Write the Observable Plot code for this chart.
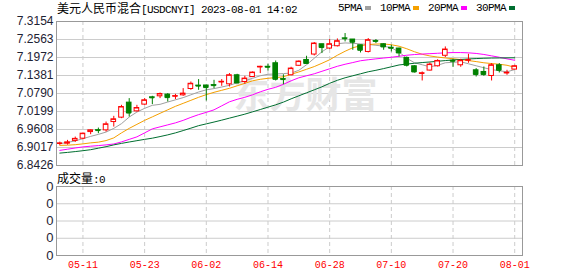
<!DOCTYPE html>
<html><head><meta charset="utf-8">
<script src="https://cdn.jsdelivr.net/npm/d3@7"></script>
<script src="https://cdn.jsdelivr.net/npm/@observablehq/plot@0.6"></script>
<style>
html,body{margin:0;padding:0;background:#fff;}
#wrap{position:relative;width:578px;height:276px;overflow:hidden;font-family:"Liberation Sans",Arial,sans-serif;}
.abs{position:absolute;white-space:nowrap;line-height:16px;color:#000;}
.cjk{font-family:"Noto Sans CJK SC";font-size:12px;}
.mono{font-family:"Liberation Mono",monospace;font-size:11px;letter-spacing:-0.6px;}
.sw{display:inline-block;width:6px;height:4px;margin:0 9px 1px 3px;vertical-align:middle;}
svg{position:absolute;left:0;}
</style></head><body><div id="wrap"></div>
<script>
const dates = ["05-08","05-09","05-10","05-11","05-12","05-15","05-16","05-17","05-18","05-19",
"05-22","05-23","05-24","05-25","05-26","05-29","05-30","05-31","06-01","06-02",
"06-05","06-06","06-07","06-08","06-09","06-12","06-13","06-14","06-15","06-16",
"06-19","06-20","06-21","06-26","06-27","06-28","06-29","06-30","07-03","07-04",
"07-05","07-06","07-07","07-10","07-11","07-12","07-13","07-14","07-17","07-18",
"07-19","07-20","07-21","07-24","07-25","07-26","07-27","07-28","07-31","08-01"];
const open = [6.9136,6.9142,6.9234,6.9307,6.9524,6.9586,6.9580,6.9853,6.9997,7.0490,
7.0204,7.0425,7.0665,7.0698,7.0753,7.0691,7.0730,7.0938,7.1049,7.1053,
7.1066,7.1158,7.1092,7.1388,7.1168,7.1332,7.1651,7.1667,7.1783,7.1263,
7.1388,7.1700,7.1891,7.2069,7.2407,7.2266,7.2342,7.2601,7.2562,7.2374,
7.2154,7.2512,7.2407,7.2292,7.2266,7.1957,7.1684,7.1437,7.1543,7.1684,
7.2029,7.1865,7.1717,7.1871,7.1552,7.1497,7.1365,7.1717,7.1454,7.1575];
const high = [6.9195,6.9251,6.9359,6.9491,6.9596,6.9655,6.9853,7.0040,7.0402,7.0622,
7.0402,7.0622,7.0698,7.0806,7.0786,7.0763,7.0951,7.1168,7.1247,7.1059,
7.1224,7.1247,7.1444,7.1421,7.1355,7.1497,7.1684,7.1750,7.1858,7.1404,
7.1651,7.1858,7.2013,7.2463,7.2407,7.2562,7.2582,7.2759,7.2562,7.2374,
7.2595,7.2562,7.2424,7.2374,7.2276,7.1990,7.1700,7.1497,7.1792,7.1898,
7.2319,7.1914,7.1914,7.2078,7.1608,7.1661,7.1773,7.1773,7.1552,7.1717];
const low = [6.9086,6.9096,6.9185,6.9267,6.9438,6.9471,6.9524,6.9688,6.9964,7.0017,
7.0181,7.0402,7.0425,7.0622,7.0510,7.0589,7.0698,7.0895,7.0895,7.0543,
7.0951,7.1026,7.1003,7.1115,7.1092,7.1312,7.1444,7.1529,7.1201,7.1076,
7.1372,7.1684,7.1766,7.2023,7.2101,7.2233,7.2319,7.2483,7.2210,7.2121,
7.2121,7.2430,7.2210,7.2154,7.1990,7.1661,7.1464,7.1201,7.1529,7.1661,
7.1970,7.1651,7.1651,7.1783,7.1332,7.1355,7.1201,7.1464,7.1388,7.1575];
const close = [6.9152,6.9185,6.9300,6.9471,6.9580,6.9573,6.9777,6.9941,7.0346,7.0148,
7.0313,7.0566,7.0648,7.0773,7.0655,7.0704,7.0786,7.1109,7.1033,7.0984,
7.1049,7.1174,7.1388,7.1135,7.1279,7.1477,7.1667,7.1651,7.1256,7.1247,
7.1608,7.1838,7.1773,7.2430,7.2299,7.2407,7.2506,7.2588,7.2473,7.2210,
7.2539,7.2499,7.2319,7.2276,7.2121,7.1717,7.1497,7.1454,7.1740,7.1858,
7.2233,7.1848,7.1865,7.1888,7.1411,7.1411,7.1717,7.1552,7.1470,7.1684];
const ma5 = [6.9142,6.9185,6.9234,6.9307,6.9382,6.9448,6.9524,6.9645,6.9800,7.0017,
7.0181,7.0303,7.0402,7.0434,7.0510,7.0582,7.0655,7.0747,7.0839,7.0911,
7.0951,7.1003,7.1059,7.1141,7.1207,7.1289,7.1372,7.1421,7.1431,7.1444,
7.1460,7.1552,7.1733,7.1947,7.2161,7.2325,7.2424,7.2450,7.2440,7.2417,
7.2401,7.2374,7.2342,7.2292,7.2154,7.1947,7.1799,7.1733,7.1667,7.1717,
7.1799,7.1815,7.1832,7.1766,7.1700,7.1635,7.1575,7.1536,7.1503,7.1575];
const ma10 = [6.9086,6.9093,6.9109,6.9136,6.9169,6.9192,6.9244,6.9333,6.9497,6.9645,
6.9777,6.9908,7.0023,7.0139,7.0254,7.0369,7.0467,7.0566,7.0665,7.0753,
7.0829,7.0895,7.0961,7.1043,7.1125,7.1207,7.1256,7.1289,7.1312,7.1339,
7.1421,7.1497,7.1585,7.1674,7.1783,7.1898,7.2046,7.2177,7.2292,7.2358,
7.2397,7.2414,7.2417,7.2391,7.2342,7.2259,7.2161,7.2078,7.2023,7.1986,
7.1957,7.1931,7.1904,7.1871,7.1838,7.1799,7.1773,7.1750,7.1717,7.1651];
const ma20 = [6.8922,6.8961,6.9001,6.9037,6.9060,6.9080,6.9103,6.9132,6.9201,6.9284,
6.9366,6.9497,6.9629,6.9695,6.9760,6.9826,6.9908,7.0007,7.0096,7.0171,
7.0254,7.0385,7.0517,7.0599,7.0665,7.0747,7.0845,7.0928,7.0993,7.1092,
7.1207,7.1306,7.1372,7.1437,7.1520,7.1602,7.1684,7.1750,7.1806,7.1865,
7.1898,7.1927,7.1954,7.1980,7.2013,7.2046,7.2069,7.2085,7.2098,7.2111,
7.2125,7.2134,7.2134,7.2125,7.2105,7.2072,7.2026,7.1980,7.1927,7.1881];
const ma30 = [6.8833,6.8856,6.8883,6.8912,6.8945,6.8994,6.9044,6.9103,6.9152,6.9198,
6.9241,6.9284,6.9323,6.9376,6.9432,6.9497,6.9573,6.9652,6.9734,6.9793,
6.9853,6.9915,6.9981,7.0046,7.0112,7.0188,7.0264,7.0342,7.0418,7.0507,
7.0615,7.0714,7.0813,7.0911,7.1010,7.1125,7.1224,7.1306,7.1372,7.1437,
7.1503,7.1552,7.1608,7.1667,7.1727,7.1756,7.1783,7.1806,7.1825,7.1848,
7.1871,7.1891,7.1908,7.1924,7.1937,7.1947,7.1954,7.1957,7.1960,7.1963];
const yTicks = [6.8426,6.9017,6.9608,7.0199,7.0790,7.1381,7.1972,7.2563,7.3154];
const xTickLabels = ["05-11","05-23","06-02","06-14","06-28","07-10","07-20","08-01"];
const volTicks = [0,1,2,3,4];
const volTickLabels = ["0","0","0","0","0"];
const maNames = ["5PMA","10PMA","20PMA","30PMA"];
const maColors = ["#a0a0a0","#f5a000","#ff00ff","#006e30"];
const UP = "#ff0000", DOWN = "#008000";

const candles = dates.map((d,i)=>({i, d, o:open[i], h:high[i], l:low[i], c:close[i], up: close[i] >= open[i]}));
const tickIdx = xTickLabels.map(l => dates.indexOf(l));
const series = [ma5, ma10, ma20, ma30];
const xDomain = [-0.43, 60.01];
const half = 0.3;

const wrap = document.getElementById("wrap");

const main = Plot.plot({
  width: 578, height: 172,
  marginTop: 21, marginBottom: 7, marginLeft: 56, marginRight: 56,
  x: {type: "linear", domain: xDomain, axis: null},
  y: {domain: [yTicks[0], yTicks[yTicks.length-1]], axis: null},
  style: {background: "transparent", fontFamily: "Liberation Sans, Arial, sans-serif"},
  marks: [
    Plot.gridY(yTicks, {stroke: "#cccccc", strokeOpacity: 1}),
    Plot.ruleX(tickIdx, {stroke: "#cccccc", strokeDasharray: "4,3"}),
    Plot.text(["东方财富"], {frameAnchor: "middle", dx: 16, dy: 3, fontSize: 36, fontWeight: "bold", fill: "#e6e6e6", fontFamily: "Noto Sans CJK SC"}),
    ...series.map((s, k) => Plot.line(candles, {x: "i", y: d => s[d.i], stroke: maColors[k], strokeWidth: 1})),
    Plot.ruleX(candles, {x: "i", y1: "l", y2: "h", stroke: d => d.up ? UP : DOWN}),
    Plot.rect(candles, {x1: d => d.i - half, x2: d => d.i + half, y1: "o", y2: "c",
      fill: d => d.up ? "#ffffff" : DOWN, stroke: d => d.up ? UP : DOWN}),
    Plot.ruleY(candles, {y: "c", x1: d => d.i - half, x2: d => d.i + half, stroke: d => d.up ? UP : DOWN}),
    Plot.frame({stroke: "#999999"}),
    Plot.axisY(yTicks, {tickSize: 0, tickPadding: 3, tickFormat: d => d.toFixed(4), label: null, fontSize: 12, fill: "#1e2233"})
  ]
});
main.style.top = "0px";
wrap.appendChild(main);

const vol = Plot.plot({
  width: 578, height: 104,
  marginTop: 14, marginBottom: 21, marginLeft: 56, marginRight: 56,
  x: {type: "linear", domain: xDomain, axis: null},
  y: {domain: [volTicks[0], volTicks[volTicks.length-1]], axis: null},
  style: {background: "transparent", fontFamily: "Liberation Sans, Arial, sans-serif"},
  marks: [
    Plot.gridY(volTicks, {stroke: "#cccccc", strokeOpacity: 1}),
    Plot.ruleX(tickIdx, {stroke: "#cccccc", strokeDasharray: "4,3"}),
    Plot.frame({stroke: "#999999"}),
    Plot.axisY(volTicks, {tickSize: 0, tickPadding: 3, tickFormat: d => volTickLabels[d], label: null, fontSize: 13, fill: "#1e2233"}),
    Plot.axisX(tickIdx, {tickSize: 0, tickPadding: 5, tickFormat: i => dates[i], label: null, fill: "#ff0000", fontSize: 10, fontFamily: "Liberation Mono, monospace"})
  ]
});
vol.style.top = "172px";
wrap.appendChild(vol);

const title = document.createElement("div");
title.className = "abs";
title.style.left = "57px"; title.style.top = "0px";
title.innerHTML = '<span class="cjk">美元人民币混合</span><span class="mono">[USDCNYI] 2023-08-01 14:02</span>';
wrap.appendChild(title);

const legend = document.createElement("div");
legend.className = "abs mono";
legend.style.left = "338px"; legend.style.top = "0px";
legend.innerHTML = maNames.map((n,k) => `<span>${n}</span><span class="sw" style="background:${maColors[k]}"></span>`).join("");
wrap.appendChild(legend);

const volTitle = document.createElement("div");
volTitle.className = "abs";
volTitle.style.left = "57px"; volTitle.style.top = "170px";
volTitle.innerHTML = '<span class="cjk">成交量</span><span class="mono">:0</span>';
wrap.appendChild(volTitle);
</script></body></html>
